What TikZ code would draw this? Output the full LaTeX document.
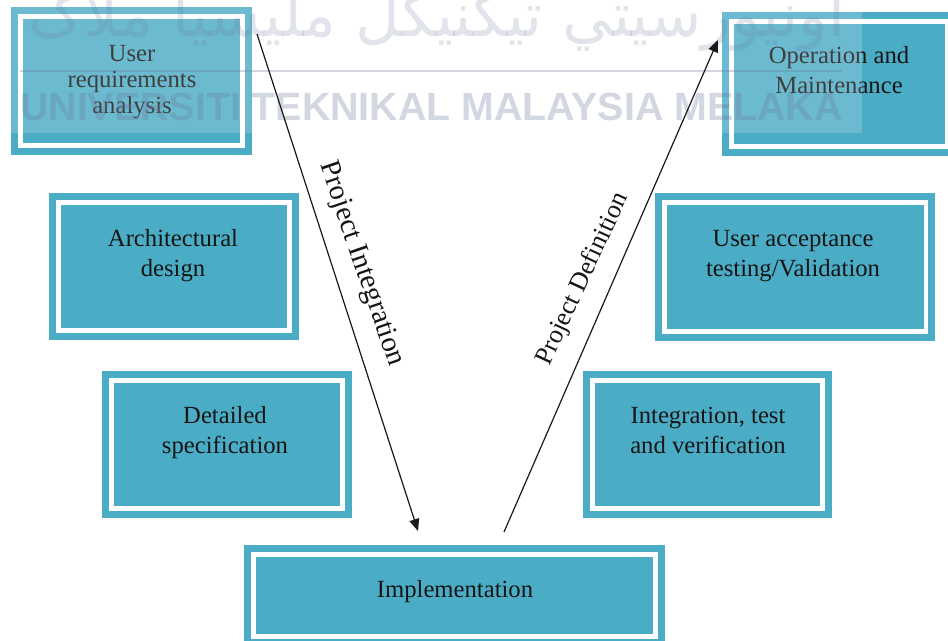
\documentclass[tikz,border=0pt]{standalone}
\usepackage{fontspec}
\setmainfont{Liberation Serif}
\newfontfamily\wmfont{Liberation Sans}
\newfontfamily\jawifont[Script=Arabic]{DejaVu Sans}
\TeXXeTstate=1
\usetikzlibrary{arrows.meta}
\definecolor{boxteal}{HTML}{4BACC6}
\definecolor{wmgray}{HTML}{6E7A9C}
\definecolor{txtdark}{HTML}{151515}

\begin{document}
\begin{tikzpicture}[x=0.75pt,y=-0.75pt,
  % teal panel with an inset white frame line
  vbox/.style={rectangle, fill=boxteal, draw=white, line width=3.4pt,
    preaction={draw=boxteal, line width=13.9pt}, inner sep=0pt, outer sep=0pt},
  boxsize/.style 2 args={minimum width=(#1-18.5)*0.75pt, minimum height=(#2-18.5)*0.75pt},
  txt/.style={font=\fontsize{18.5}{22.5}\selectfont, align=center, inner sep=0pt, text=txtdark},
  lbl/.style={inner sep=0pt, text=txtdark},
  conn/.style={line width=0.9pt, draw=black!90, -{Triangle[length=9pt,width=7.5pt]}},
  wmtext/.style={inner sep=0pt, text=wmgray, text opacity=0.3}]

\path[use as bounding box] (0,0) rectangle (948,640);
\clip (0,0) rectangle (948,640);

% left branch
\node[vbox, boxsize={241}{148}] (ura) at (131.5,81) {};
\node[txt, font=\fontsize{18.5}{19.5}\selectfont] (ura-t) at (132,82) {User\strut\\requirements\strut\\analysis\strut};

\node[vbox, boxsize={250}{147}] (ad) at (174,266.5) {};
\node[txt] (ad-t) at (173,255) {Architectural\strut\\design\strut};

\node[vbox, boxsize={250}{147}] (ds) at (227,444.5) {};
\node[txt] (ds-t) at (225,432) {Detailed\strut\\specification\strut};

% bottom
\node[vbox, boxsize={421}{101}] (impl) at (454.5,595.5) {};
\node[txt] (impl-t) at (455,591) {Implementation\strut};

% right branch
\node[vbox, boxsize={249}{147}] (itv) at (707.5,444.5) {};
\node[txt] (itv-t) at (708,432) {Integration, test\strut\\and verification\strut};

\node[vbox, boxsize={280}{148}] (uat) at (795,267) {};
\node[txt] (uat-t) at (793,255) {User acceptance\strut\\testing/Validation\strut};

\node[vbox, boxsize={234}{144}] (om) at (839,84) {};
\node[txt] (om-t) at (839,72) {Operation and\strut\\Maintenance\strut};

% watermark band
\fill[white, opacity=0.18] (0,0) rectangle (862,133);
\node[wmtext, text opacity=0.2, font=\jawifont\fontsize{46}{46}\selectfont, anchor=base] (jawi) at (437,36)
  {\beginR اونيورسيتي تيکنيکل مليسيا ملاک\endR};
\coordinate (wl-a) at (20,71);
\coordinate (wl-b) at (842,71);
\draw[wmgray, opacity=0.3, line width=1.6pt] (wl-a) -- (wl-b);
\node[wmtext, font=\wmfont\bfseries\fontsize{29.5}{30}\selectfont, anchor=base west] (wm) at (20,120)
  {UNIVERSITI TEKNIKAL MALAYSIA MELAKA};

% process arrows
\coordinate (a1s) at (257,34);
\coordinate (a1e) at (418,531);
\coordinate (a2s) at (504,532);
\coordinate (a2e) at (718,40);
\draw[conn] (a1s) -- (a1e);
\draw[conn] (a2s) -- (a2e);
\node[lbl, font=\fontsize{21.5}{24}\selectfont, rotate=-71] (pint) at (361,264) {Project Integration};
\node[lbl, font=\fontsize{19.5}{22}\selectfont, rotate=65] (pdef) at (583,279) {Project Definition};
\end{tikzpicture}
\end{document}
